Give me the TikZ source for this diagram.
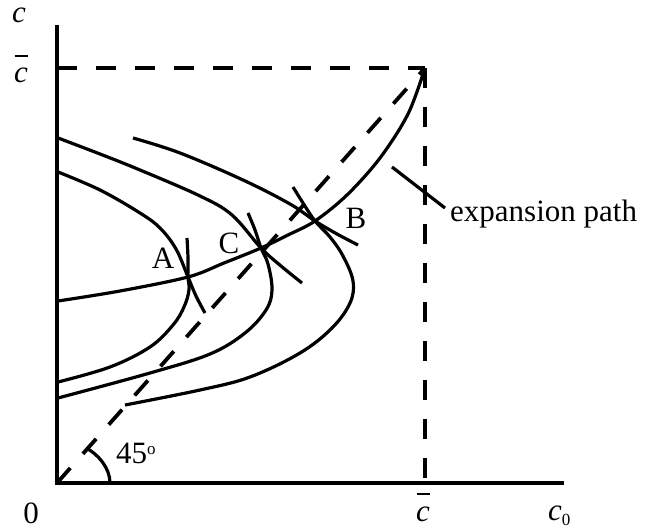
\documentclass[tikz,border=0pt]{standalone}
\usepackage{fontspec}
\setmainfont{Liberation Serif}
\newcommand{\barredc}{\vbox{\offinterlineskip\halign{\hfil##\hfil\cr\rule{13bp}{2.4bp}\cr\noalign{\kern11bp}\textit{c}\cr}}}
\begin{document}
\begin{tikzpicture}[x=1bp,y=-1bp,
  axisline/.style={line width=3.8bp},
  curveline/.style={line width=3.2bp},
  dashline/.style={line width=3.8bp, dash pattern=on 20bp off 19bp},
  lbl/.style={font=\fontsize{31bp}{36bp}\selectfont, inner sep=0pt}]
\useasboundingbox (0,0) rectangle (645,531);
% key points
\coordinate (O) at (57,483);
\coordinate (Ytop) at (57,25);
\coordinate (Xend) at (564,483);
\coordinate (K) at (425,68);
\coordinate (Yk) at (57,68);
\coordinate (Xk) at (425,483);
\coordinate (PA) at (188,277);
\coordinate (PC) at (261,248);
\coordinate (PB) at (315,221);
% axes
\draw[axisline] (Ytop) -- (O) -- (Xend);
% dashed lines
\draw[dashline] (Yk) -- (K);
\draw[dashline] (K) -- (Xk);
\draw[dashline] (O) -- (K);
% upper curves (from upper left, ending just past the crossing)
\draw[curveline] plot[smooth, tension=0.6] coordinates {(58,172) (100,190) (140,213) (160,228) (176,249) (PA) (196,296) (205,313)};
\draw[curveline] plot[smooth, tension=0.6] coordinates {(58,138) (100,154) (140,170) (200,196) (232,215) (PC) (281,266) (302,283)};
\draw[curveline] plot[smooth, tension=0.6] coordinates {(133,138) (180,153) (243,180) (290,204) (PB) (337,234) (358,245)};
% lower C-shaped curves (starting just above the crossing)
\draw[curveline] plot[smooth, tension=0.6] coordinates {(187,238) (188,258) (PA) (189,290) (184,307) (173,325) (150,347) (110,367) (58,382)};
\draw[curveline] plot[smooth, tension=0.6] coordinates {(248,213) (255,230) (PC) (268,264) (272,290) (266,310) (245,333) (210,354) (150,373) (58,398)};
\draw[curveline] plot[smooth, tension=0.6] coordinates {(293,187) (303,203) (PB) (330,237) (343,256) (353,281) (350,303) (332,328) (300,353) (250,377) (200,390) (125,405)};
% expansion path
\draw[curveline] plot[smooth, tension=0.55] coordinates {(58,301) (120,291) (PA) (224,263) (PC) (288,235) (PB) (347,195) (380,158) (408,114) (K)};
% labels
\node[lbl] (lA) at (163,258) {A};
\node[lbl] (lC) at (229,243) {C};
\node[lbl] (lB) at (356,218) {B};
\node[lbl, anchor=base west] (ep) at (450,222) {expansion path};
\coordinate (leadA) at (392,167);
\coordinate (leadB) at (445,208);
\draw[curveline] (leadA) -- (leadB);
\node[lbl, anchor=base] (ly) at (19,23) {\textit{c}};
\node[lbl, anchor=base] (lyb) at (21,83) {\barredc};
\node[lbl, anchor=base] (lxb) at (423,521) {\barredc};
\node[lbl, anchor=base] (l0) at (31,523) {0};
\node[lbl, anchor=base west] (lx) at (548,520) {\textit{c}\raisebox{-5bp}{\fontsize{17bp}{17bp}\selectfont 0}};
\node[lbl, anchor=base west] (l45) at (116,463) {45\raisebox{9bp}{\fontsize{17bp}{17bp}\selectfont o}};
% angle arc
\coordinate (arcS) at (86,448);
\coordinate (arcE) at (110,483);
\draw[curveline] (arcS) .. controls (98,454) and (110,468) .. (arcE);
\end{tikzpicture}
\end{document}
